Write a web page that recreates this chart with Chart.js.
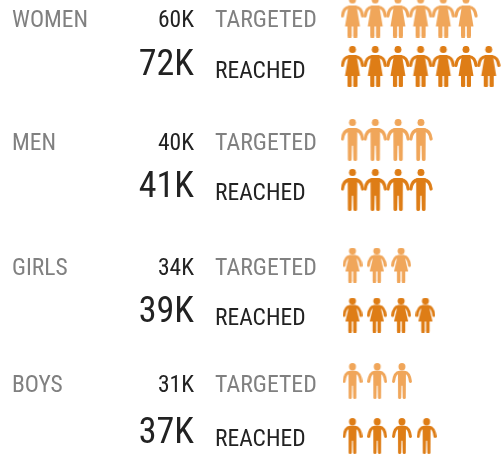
<!DOCTYPE html>
<html><head><meta charset="utf-8">
<style>html,body{margin:0;padding:0;background:#fff}#w{width:504px;height:454px;position:relative}canvas{display:block}</style>
<script src="https://cdn.jsdelivr.net/npm/chart.js@4"></script>
</head><body><div id="w"><canvas id="c" width="504" height="454"></canvas></div>
<script>
const categories = ['WOMEN','MEN','GIRLS','BOYS'];
const targetedK = [60,40,34,31];
const reachedK = [72,41,39,37];
const targetedIcons = [6,4,3,3];
const reachedIcons = [7,4,4,4];
const seriesNames = ['TARGETED','REACHED'];
const targetedColor = '#F0A65A';
const reachedColor = '#DE7D16';

const rowTargetedY = [17,140,265,381];
const rowReachedY = [66.5,190,315,436];
const iconSize = [[24,41],[24,42],[20,35],[20,36]];
const iconStep = [22.7,22.8,24.3,24.7];
const iconStart = 352.5;

function makeIcon(kind,color,w,h){
  const c=document.createElement('canvas');c.width=w;c.height=h;
  const g=c.getContext('2d');g.scale(w/24,h/41);
  g.fillStyle=color;g.strokeStyle=color;g.lineCap='round';g.lineJoin='round';
  const child=kind>=2;
  g.beginPath();g.arc(12,child?4.2:3.4,child?4.2:3.5,0,7);g.fill();
  g.lineWidth=child?3.6:3.2;
  g.beginPath();g.moveTo(1.9,child?21:19.5);g.quadraticCurveTo(3,11,9,10.5);g.lineTo(15,10.5);g.quadraticCurveTo(21,11,22.1,child?21:19.5);g.stroke();
  if(kind===0||kind===2){
    g.beginPath();g.moveTo(8,9);g.lineTo(16,9);g.lineTo(kind===2?20.5:19.5,kind===2?28:30);g.lineTo(kind===2?3.5:4.5,kind===2?28:30);g.closePath();g.fill();
    g.fillRect(7,28,4.2,12);g.fillRect(12.8,28,4.2,12);
    g.beginPath();g.arc(9.1,39.5,2,0,7);g.arc(14.9,39.5,2,0,7);g.fill();
  }else{
    g.beginPath();g.moveTo(7.2,9);g.lineTo(16.8,9);g.lineTo(16.6,39.5);g.quadraticCurveTo(16.6,41,14.8,41);g.quadraticCurveTo(13,41,12.9,39.5);g.lineTo(12.6,26);g.lineTo(11.4,26);g.lineTo(11.1,39.5);g.quadraticCurveTo(11,41,9.2,41);g.quadraticCurveTo(7.4,41,7.4,39.5);g.closePath();g.fill();
  }
  return c;
}
const datasets=[];
function addRow(i,n,y,color){
  const [w,h]=iconSize[i];
  const icon=makeIcon(i,color,w,h);
  const pts=[];
  for(let k=0;k<n;k++)pts.push({x:iconStart+k*iconStep[i],y:y});
  datasets.push({data:pts,pointStyle:icon,pointRadius:w/2,pointHoverRadius:w/2,showLine:false,clip:false});
}
categories.forEach((_,i)=>{
  addRow(i,targetedIcons[i],rowTargetedY[i],targetedColor);
  addRow(i,reachedIcons[i],rowReachedY[i],reachedColor);
});

const FAMILY="'Roboto Condensed',Roboto,sans-serif";
function txt(ctx,s,x,y,size,weight,color,align){
  ctx.save();
  ctx.font=weight+' '+size+'px '+FAMILY;ctx.fillStyle=color;ctx.textAlign=align;ctx.textBaseline='alphabetic';
  ctx.fillText(s,x,y);ctx.restore();
}
const textPlugin={id:'rows',afterDatasetsDraw(chart){
  const {ctx,scales:{x,y}}=chart;
  const grey='#808080',ink='#222222';
  const nameBase=[27,150,275,392],tBase=[27,150,275,392],rvBase=[75,197,322,443],labBase=[78,200,325,446];
  categories.forEach((c,i)=>{
    txt(ctx,c,x.getPixelForValue(12),y.getPixelForValue(nameBase[i]),23.5,400,grey,'left');
    txt(ctx,targetedK[i]+'K',x.getPixelForValue(194),y.getPixelForValue(tBase[i]),23.5,400,ink,'right');
    txt(ctx,reachedK[i]+'K',x.getPixelForValue(194),y.getPixelForValue(rvBase[i]),36,400,ink,'right');
    txt(ctx,seriesNames[0],x.getPixelForValue(215),y.getPixelForValue(tBase[i]),23.8,400,grey,'left');
    txt(ctx,seriesNames[1],x.getPixelForValue(215),y.getPixelForValue(labBase[i]),23.5,400,ink,'left');
  });
}};
new Chart(document.getElementById('c'),{
  type:'scatter',
  data:{datasets},
  plugins:[textPlugin],
  options:{responsive:false,animation:false,
    layout:{padding:0,autoPadding:false},
    plugins:{legend:{display:false},tooltip:{enabled:false},title:{display:false}},
    scales:{x:{type:'linear',min:0,max:504,display:false},y:{type:'linear',min:0,max:454,reverse:true,display:false}}
  }
});
</script></body></html>
